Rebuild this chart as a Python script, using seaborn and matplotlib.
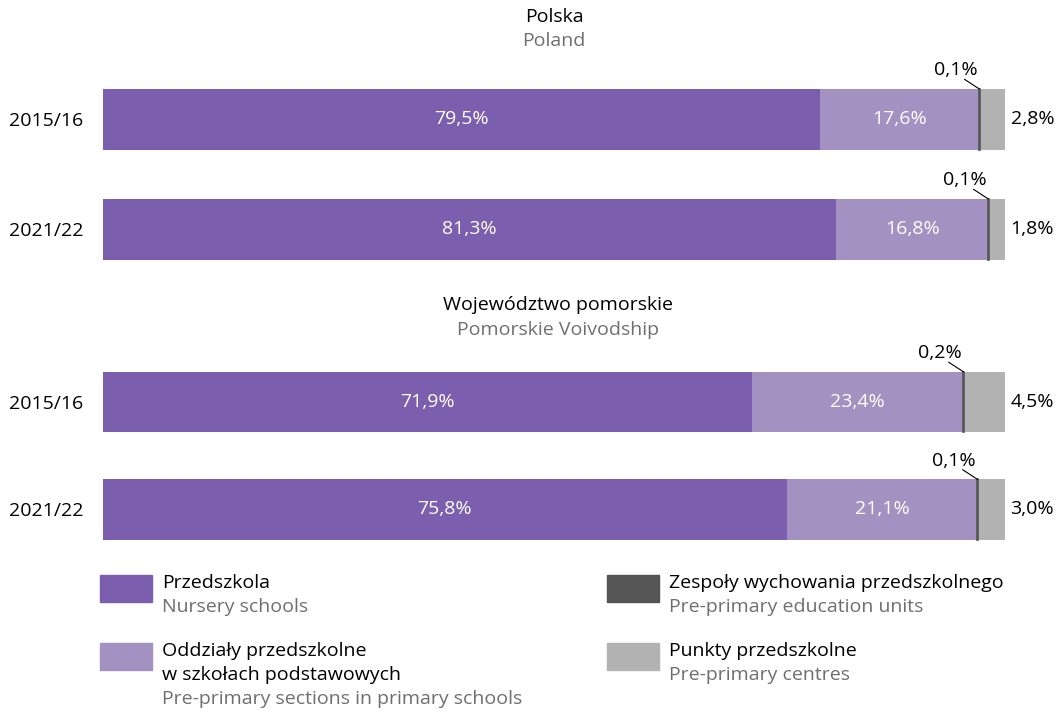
import pandas as pd
import numpy as np
import matplotlib.pyplot as plt
import seaborn as sns
from matplotlib.patches import Rectangle

# Data (shares in %)
years = ['2015/16', '2021/22']
segments_pl = ['Przedszkola', 'Oddziały przedszkolne\nw szkołach podstawowych',
               'Zespoły wychowania przedszkolnego', 'Punkty przedszkolne']
segments_en = ['Nursery schools', 'Pre-primary sections in primary schools',
               'Pre-primary education units', 'Pre-primary centres']
poland = [[79.5, 17.6, 0.1, 2.8],
          [81.3, 16.8, 0.1, 1.8]]
pomorskie = [[71.9, 23.4, 0.2, 4.5],
             [75.8, 21.1, 0.1, 3.0]]
colors = ['#7b5ead', '#a391c2', '#555555', '#b2b2b2']

sns.set_theme(style='white')
plt.rcParams['font.family'] = ['Open Sans', 'DejaVu Sans']
FS = 14
GREY_TXT = '#6f6f6f'

fig = plt.figure(figsize=(10.62, 7.16), dpi=100)


def fmt(v):
    return f'{v:.1f}%'.replace('.', ',')


def draw_panel(ax, values, bar_w):
    vals = np.array(values)
    lefts = np.hstack([np.zeros((len(years), 1)), vals.cumsum(axis=1)[:, :-1]])
    for k in range(4):
        d = pd.DataFrame({'year': years, 'val': vals[:, k]})
        n0 = len(ax.patches)
        sns.barplot(data=d, x='val', y='year', orient='h', color=colors[k],
                    saturation=1, width=bar_w, errorbar=None, ax=ax,
                    linewidth=1.2 if k == 2 else 0, edgecolor=colors[k])
        # shift each segment so the bars stack
        for p, l in zip(ax.patches[n0:], lefts[:, k]):
            p.set_x(l)
            if k == 2:
                p.set_zorder(3)
    for i in range(len(years)):
        for k in range(4):
            v = vals[i, k]
            left = lefts[i, k]
            mid = left + v / 2
            if k < 2:
                ax.text(mid, i, fmt(v), color='white', ha='center', va='center',
                        fontsize=FS)
            elif k == 2:
                ax.annotate(fmt(v), xy=(mid, i - bar_w / 2), xytext=(-17, 7),
                            textcoords='offset points', ha='center', va='bottom',
                            fontsize=FS, color='black',
                            arrowprops=dict(arrowstyle='-', color='black', lw=0.8,
                                            relpos=(0.7, 0), patchA=None,
                                            shrinkA=0, shrinkB=0))
            else:
                ax.annotate(fmt(v), xy=(left + v, i), xytext=(4, 0),
                            textcoords='offset points', ha='left', va='center',
                            fontsize=FS, color='black')
    ax.set_xlim(0, 100)
    ax.set_ylim(1.5, -0.5)
    ax.set_xlabel('')
    ax.set_ylabel('')
    ax.set_xticks([])
    ax.tick_params(axis='y', length=0, pad=14, labelsize=FS)
    for tl in ax.get_yticklabels():
        tl.set_color('black')
    sns.despine(ax=ax, left=True, bottom=True)


ax1 = fig.add_axes([103 / 1062, 1 - 284.5 / 716, 902 / 1062, 220 / 716])
draw_panel(ax1, poland, 0.555)
ax2 = fig.add_axes([103 / 1062, 1 - 563.25 / 716, 902 / 1062, 215 / 716])
draw_panel(ax2, pomorskie, 0.56)

# panel titles
cx = (103 + 902 / 2) / 1062
fig.text(cx, 1 - 17 / 716, 'Polska', ha='center', va='center', fontsize=FS, color='black')
fig.text(cx, 1 - 41 / 716, 'Poland', ha='center', va='center', fontsize=FS, color=GREY_TXT)
fig.text(558 / 1062, 1 - 305 / 716, 'Województwo pomorskie', ha='center', va='center',
         fontsize=FS, color='black')
fig.text(558 / 1062, 1 - 330 / 716, 'Pomorskie Voivodship', ha='center', va='center',
         fontsize=FS, color=GREY_TXT)

# legend
legend_pos = [(100, 575), (100, 643), (607, 575), (607, 643)]
for k, (px, py) in enumerate(legend_pos):
    fig.patches.append(Rectangle((px / 1062, 1 - (py + 27) / 716), 52 / 1062, 27 / 716,
                                 transform=fig.transFigure, color=colors[k]))
    tx = (px + 62) / 1062
    lines = segments_pl[k].split('\n')
    y = py + 8
    for ln in lines:
        fig.text(tx, 1 - y / 716, ln, ha='left', va='center', fontsize=FS, color='black')
        y += 24
    fig.text(tx, 1 - y / 716, segments_en[k], ha='left', va='center', fontsize=FS,
             color=GREY_TXT)

fig.savefig('out.png', dpi=100)
